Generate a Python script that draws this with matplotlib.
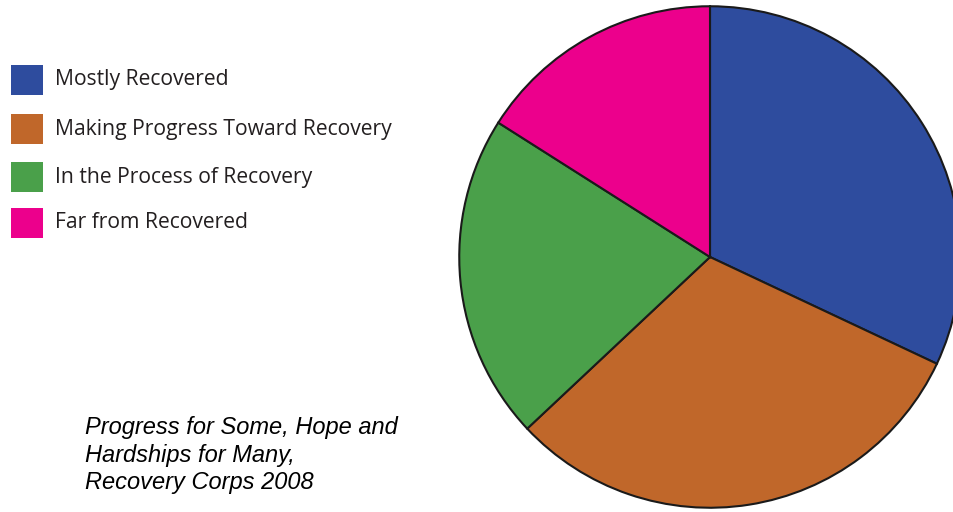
import matplotlib.pyplot as plt
from matplotlib.patches import Rectangle

# data
labels = ['Mostly Recovered', 'Making Progress Toward Recovery',
          'In the Process of Recovery', 'Far from Recovered']
shares = [32, 31, 21, 16]
colors = ['#2E4C9E', '#C0672A', '#4AA04A', '#EC008C']
caption = 'Progress for Some, Hope and\nHardships for Many,\nRecovery Corps 2008'

W, H = 954, 512
fig = plt.figure(figsize=(W / 100, H / 100), dpi=100)

# pie axes, centre (710, 257) px, radius 252 px (right side runs off the figure)
cx, cy, r = 710, 257, 252
ax = fig.add_axes([(cx - r) / W, (H - cy - r) / H, 2 * r / W, 2 * r / H])
ax.pie(shares, colors=colors, startangle=90, counterclock=False, radius=1,
       wedgeprops=dict(edgecolor='#1a1a1a', linewidth=1.5))
ax.set_xlim(-1.005, 1.005)
ax.set_ylim(-1.005, 1.005)
ax.set_aspect('equal')
ax.axis('off')

# legend drawn by hand
ys = [80, 129, 177, 223]
for lab, col, y in zip(labels, colors, ys):
    fig.add_artist(Rectangle((11 / W, (H - y - 15) / H), 32 / W, 30 / H,
                             transform=fig.transFigure, facecolor=col,
                             edgecolor='none'))
    fig.text(55 / W, (H - y) / H, lab, fontsize=15.2, family='Open Sans',
             color='#231f20', va='center', ha='left')

# source caption
fig.text(85 / W, (H - 416) / H, caption, fontsize=17, family='Liberation Sans',
         style='italic', va='top', ha='left', linespacing=1.26, color='black')

fig.savefig('out.png', dpi=100)
